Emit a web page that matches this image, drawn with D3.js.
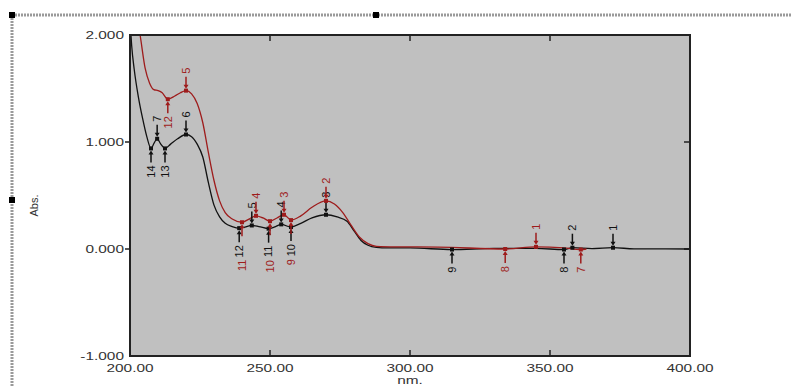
<!DOCTYPE html>
<html>
<head>
<meta charset="utf-8">
<script src="https://cdn.jsdelivr.net/npm/d3@7"></script>
<style>
  html, body { margin: 0; padding: 0; background: #fff; }
  svg { display: block; font-family: 'Liberation Sans', Arial, sans-serif; }
</style>
</head>
<body>
<div id="chart"></div>
<script>
// spectrum 1 (black), wavelength nm / absorbance
const blackNm = [200, 200.6, 201.5, 203, 204.5, 206, 207.5, 208.6, 209.7, 211, 212.5, 214.5, 217, 220, 222, 224, 226, 228, 230, 232, 234, 236.5, 239, 241, 243.5, 246, 249.5, 252, 254, 257.5, 261, 265, 270, 274, 277.5, 280, 282.5, 285, 288, 292, 300, 315, 330, 345, 355, 358, 365, 372.5, 380, 400]
const blackAbs = [2.15, 1.9, 1.68, 1.42, 1.22, 1.05, 0.94, 0.99, 1.03, 0.98, 0.94, 0.98, 1.03, 1.07, 1.05, 0.98, 0.86, 0.62, 0.41, 0.3, 0.24, 0.21, 0.195, 0.205, 0.22, 0.21, 0.19, 0.21, 0.23, 0.205, 0.24, 0.29, 0.32, 0.3, 0.26, 0.17, 0.08, 0.035, 0.015, 0.01, 0.01, -0.005, 0.005, 0.005, -0.005, 0.012, 0.003, 0.012, 0.002, 0.0]

// spectrum 2 (red)
const redNm = [201.5, 203.6, 205.4, 207, 208.5, 210, 211.5, 213.5, 216, 218, 220, 222, 224, 226, 228, 230, 232, 234, 236.5, 240, 242.5, 245, 247.5, 250, 252.5, 255, 257.5, 261, 265, 270, 273, 276, 279, 282, 285, 288, 295, 310, 334, 345, 355, 361, 363]
const redAbs = [2.3, 2.0, 1.69, 1.55, 1.49, 1.48, 1.46, 1.4, 1.43, 1.46, 1.48, 1.45, 1.36, 1.18, 0.9, 0.64, 0.45, 0.34, 0.28, 0.25, 0.28, 0.31, 0.29, 0.26, 0.29, 0.32, 0.27, 0.31, 0.39, 0.45, 0.42, 0.34, 0.22, 0.11, 0.05, 0.025, 0.02, 0.018, 0.0, 0.02, 0.01, -0.005, 0.0]

// peak pick results: wavelength, number
const blackPeaks = [[372.5, '1'], [358, '2'], [270, '3'], [254, '4'], [243.5, '5'], [220, '6'], [209.7, '7']]
const blackValleys = [[355, '8'], [315, '9'], [257.5, '10'], [249.5, '11'], [239, '12'], [212.5, '13'], [207.5, '14']]
const redPeaks = [[345, '1'], [270, '2'], [255, '3'], [245, '4'], [220, '5']]
const redValleys = [[361, '7'], [334, '8'], [257.5, '9'], [250, '10'], [240, '11'], [213.5, '12']]

const xTicks = [200, 250, 300, 350, 400]
const yTicks = [-1, 0, 1, 2]
const xLabel = 'nm.'
const yLabel = 'Abs.'

const BLACK = '#111'
const RED = '#9e1c1c'
const width = 791
const height = 387
const plot = { left: 130, right: 690, top: 35, bottom: 356 }

const svg = d3.select('#chart').append('svg')
  .attr('width', width)
  .attr('height', height)

// window frame (hatched selection border + handles)
svg.append('line')
  .attr('x1', 12).attr('x2', width).attr('y1', 15).attr('y2', 15)
  .attr('stroke', '#9a9a9a').attr('stroke-width', 3).attr('stroke-dasharray', '2,1')
svg.append('line')
  .attr('x1', 12).attr('x2', 12).attr('y1', 15).attr('y2', height)
  .attr('stroke', '#9a9a9a').attr('stroke-width', 3).attr('stroke-dasharray', '2,1')
;[[12, 15], [376, 15], [12, 200]].forEach(([hx, hy]) => {
  svg.append('rect').attr('x', hx - 3).attr('y', hy - 3).attr('width', 6).attr('height', 6).attr('fill', '#000')
})

const x = d3.scaleLinear().domain([200, 400]).range([plot.left, plot.right])
const y = d3.scaleLinear().domain([-1, 2]).range([plot.bottom, plot.top])

svg.append('defs').append('clipPath').attr('id', 'plot-clip')
  .append('rect')
  .attr('x', plot.left).attr('y', plot.top)
  .attr('width', plot.right - plot.left).attr('height', plot.bottom - plot.top)

svg.append('rect')
  .attr('x', plot.left).attr('y', plot.top)
  .attr('width', plot.right - plot.left).attr('height', plot.bottom - plot.top)
  .attr('fill', '#c0c0c0')

// ticks
const tickG = svg.append('g').attr('stroke', '#222').attr('stroke-width', 1.5)
xTicks.slice(1, -1).forEach((t) => {
  tickG.append('line').attr('x1', x(t)).attr('x2', x(t)).attr('y1', plot.bottom).attr('y2', plot.bottom - 6)
  tickG.append('line').attr('x1', x(t)).attr('x2', x(t)).attr('y1', plot.top).attr('y2', plot.top + 6)
})
yTicks.slice(1, -1).forEach((t) => {
  tickG.append('line').attr('x1', plot.left - 5).attr('x2', plot.left).attr('y1', y(t)).attr('y2', y(t))
  tickG.append('line').attr('x1', plot.right).attr('x2', plot.right - 6).attr('y1', y(t)).attr('y2', y(t))
})

// stretched tick labels (screenshot is wide)
const wideText = (tx, ty, str, anchor) => {
  svg.append('text')
    .attr('transform', `translate(${tx},${ty}) scale(1.4,1)`)
    .attr('text-anchor', anchor)
    .attr('font-size', 11)
    .attr('fill', '#333')
    .text(str)
}
yTicks.forEach((t) => wideText(plot.left - 6, y(t) + 4, t.toFixed(3), 'end'))
xTicks.forEach((t) => wideText(x(t), plot.bottom + 16, t.toFixed(2), 'middle'))
wideText(x(300), plot.bottom + 28, xLabel, 'middle')

svg.append('text')
  .attr('transform', `translate(38,${(plot.top + plot.bottom) / 2 + 10}) rotate(-90)`)
  .attr('text-anchor', 'middle')
  .attr('font-size', 11)
  .attr('fill', '#333')
  .text(yLabel)

const line = d3.line()
  .x((d) => x(d[0]))
  .y((d) => y(d[1]))
  .curve(d3.curveMonotoneX)

const lines = svg.append('g').attr('clip-path', 'url(#plot-clip)')
lines.append('path')
  .datum(d3.zip(blackNm, blackAbs))
  .attr('d', line)
  .attr('fill', 'none')
  .attr('stroke', BLACK)
  .attr('stroke-width', 1.3)
lines.append('path')
  .datum(d3.zip(redNm, redAbs))
  .attr('d', line)
  .attr('fill', 'none')
  .attr('stroke', RED)
  .attr('stroke-width', 1.3)

// value of a spectrum at a wavelength
const valueAt = (nms, abs, w) => {
  const i = d3.bisectLeft(nms, w)
  if (i <= 0) return abs[0]
  if (i >= nms.length) return abs[abs.length - 1]
  const t = (w - nms[i - 1]) / (nms[i] - nms[i - 1])
  return abs[i - 1] + t * (abs[i] - abs[i - 1])
}

const marks = svg.append('g')
// below: optional other spectrum; a valley label is pushed under its marks when close
const drawMarks = (list, nms, abs, color, isPeak, below) => {
  list.forEach(([w, num]) => {
    const px = x(w)
    const py = y(valueAt(nms, abs, w))
    const dir = isPeak ? -1 : 1
    let labelY = py + dir * 17
    if (!isPeak && below) {
      const oy = y(valueAt(below.nms, below.abs, w))
      const other = below.list.find((d) => Math.abs(d[0] - w) < 2.5)
      if (other && oy > py && oy - py < 20) {
        labelY = oy + 17 + other[1].length * 6.5 + 2
      }
    }
    const g = marks.append('g').attr('fill', color).attr('stroke', color)
    g.append('rect').attr('x', px - 2).attr('y', py - 2).attr('width', 4).attr('height', 4).attr('stroke', 'none')
    g.append('line')
      .attr('x1', px).attr('x2', px)
      .attr('y1', py + dir * 14).attr('y2', py + dir * 4)
      .attr('stroke-width', 1.5)
    g.append('path')
      .attr('d', `M${px - 2.5},${py + dir * 6}L${px + 2.5},${py + dir * 6}L${px},${py + dir * 2}Z`)
      .attr('stroke', 'none')
    g.append('text')
      .attr('transform', `translate(${px},${labelY}) rotate(-90)`)
      .attr('text-anchor', isPeak ? 'start' : 'end')
      .attr('dy', '0.35em')
      .attr('font-size', 11)
      .attr('stroke', 'none')
      .text(num)
  })
}
drawMarks(blackPeaks, blackNm, blackAbs, BLACK, true)
drawMarks(blackValleys, blackNm, blackAbs, BLACK, false)
drawMarks(redPeaks, redNm, redAbs, RED, true)
drawMarks(redValleys, redNm, redAbs, RED, false, { nms: blackNm, abs: blackAbs, list: blackValleys })

// frame on top
svg.append('rect')
  .attr('x', plot.left).attr('y', plot.top)
  .attr('width', plot.right - plot.left).attr('height', plot.bottom - plot.top)
  .attr('fill', 'none')
  .attr('stroke', '#222')
  .attr('stroke-width', 2)
</script>
</body>
</html>
